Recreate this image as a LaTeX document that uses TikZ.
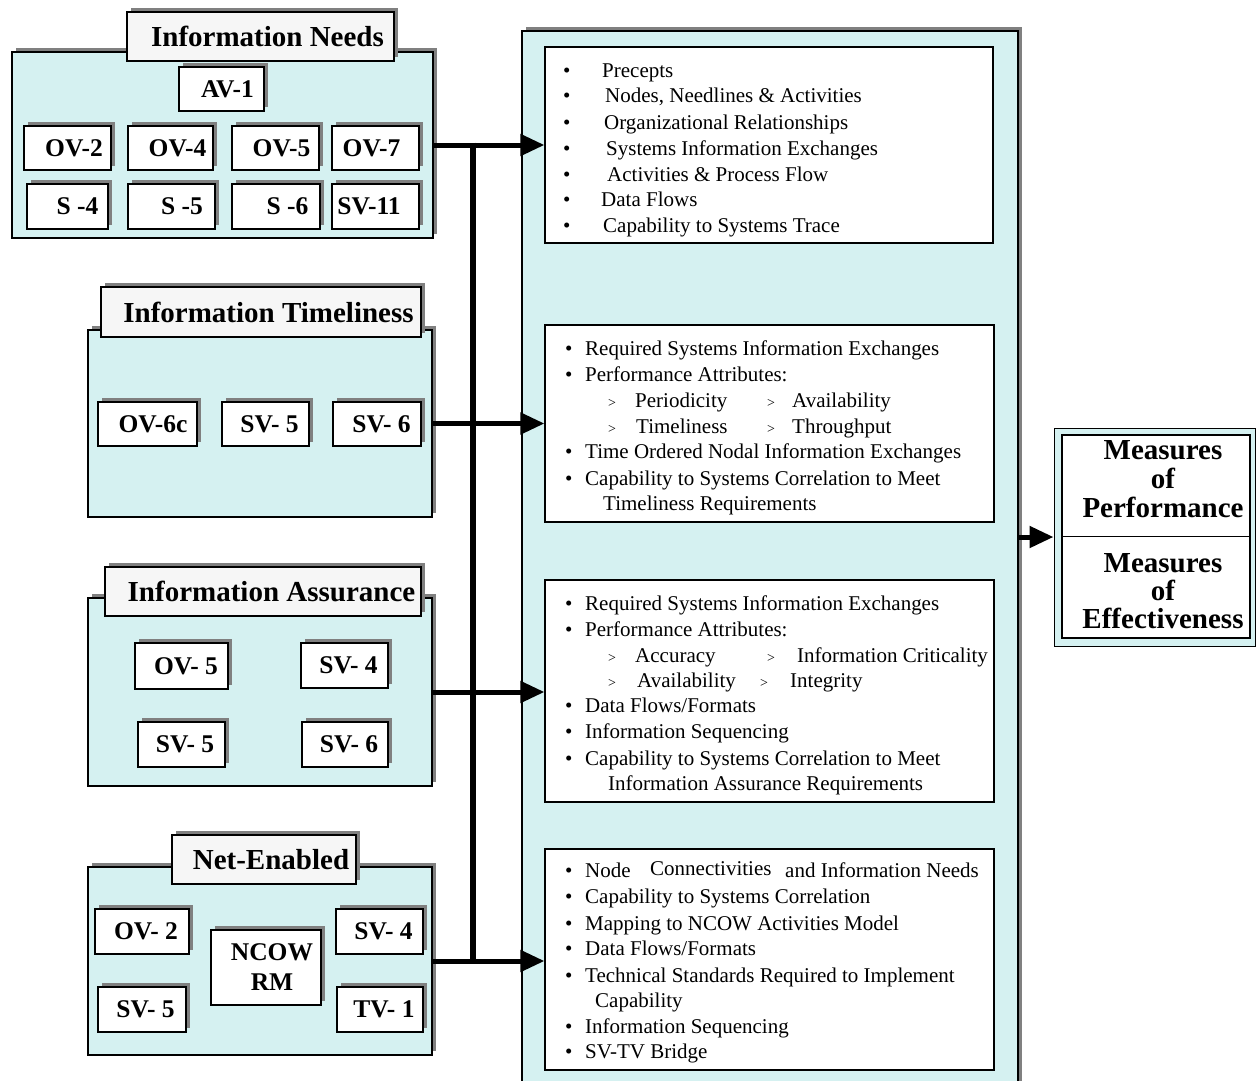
\documentclass[tikz,border=0pt]{standalone}
\usepackage{fontspec}
\setmainfont{Liberation Serif}
\usetikzlibrary{shadows,arrows.meta}
\definecolor{paneCyan}{RGB}{213,241,241}
\definecolor{capGray}{RGB}{246,246,246}
\definecolor{shadeGray}{RGB}{128,128,128}
\tikzset{
  sh/.style={drop shadow={shadow xshift=4pt,shadow yshift=4pt,fill=shadeGray,opacity=1}},
  groupbox/.style={draw=black,line width=1.2pt,fill=paneCyan,sh,inner sep=0pt},
  capbox/.style={draw=black,line width=1.2pt,fill=capGray,sh,inner sep=0pt,
    font=\fontsize{29}{32}\selectfont\bfseries},
  viewbox/.style={draw=black,line width=1.2pt,fill=white,sh,inner sep=0pt,
    font=\fontsize{25.5}{30}\selectfont\bfseries},
  listbox/.style={draw=black,line width=1.2pt,fill=white,inner sep=0pt},
  item/.style={anchor=base west,inner sep=0pt,font=\fontsize{21}{25}\selectfont},
  subtick/.style={anchor=base west,inner sep=0pt,font=\fontsize{14}{16}\selectfont},
  measure/.style={anchor=base,inner sep=0pt,font=\fontsize{29}{32}\selectfont\bfseries},
  feed/.style={line width=5pt,-{Triangle[length=24pt,width=21pt]}},
  bus/.style={line width=6pt,shorten <=-2.5pt,shorten >=-2.5pt},
}
\begin{document}
\begin{tikzpicture}[x=1pt,y=-1pt]
\useasboundingbox[fill=white] (0,0) rectangle (1259,1080);

% ---------- central panel with the four lists ----------
\node[groupbox,minimum width=496pt,minimum height=1064pt] (panel) at (770,563) {};
\node[listbox,minimum width=448pt,minimum height=196pt] (t1) at (769,145) {};
\node[listbox,minimum width=449pt,minimum height=197pt] (t2) at (769.5,423.5) {};
\node[listbox,minimum width=449pt,minimum height=222pt] (t3) at (769.5,691) {};
\node[listbox,minimum width=449pt,minimum height=221pt] (t4) at (769.5,959.5) {};

% list 1
\foreach \y/\x/\t [count=\i] in {77/602/{Precepts},102/605/{Nodes, Needlines \& Activities},
  129/604/{Organizational Relationships},155/606/{Systems Information Exchanges},
  181/607/{Activities \& Process Flow},206/601/{Data Flows},232/603/{Capability to Systems Trace}}{
  \node[item] (pa\i) at (563,\y) {•};
  \node[item] (la\i) at (\x,\y) {\t};
}

% list 2
\foreach \y/\t [count=\i] in {355/{Required Systems Information Exchanges},381/{Performance Attributes:},
  458/{Time Ordered Nodal Information Exchanges},485/{Capability to Systems Correlation to Meet}}{
  \node[item] (pb\i) at (565,\y) {•};
  \node[item] (lb\i) at (585,\y) {\t};
}
\node[item] (lb5) at (603,510) {Timeliness Requirements};
\node[subtick] (gb1) at (608,407) {>};
\node[item] (sb1) at (635,407) {Periodicity};
\node[subtick] (gb2) at (767,407) {>};
\node[item] (sb2) at (792,407) {Availability};
\node[subtick] (gb3) at (608,433) {>};
\node[item] (sb3) at (636,433) {Timeliness};
\node[subtick] (gb4) at (767,433) {>};
\node[item] (sb4) at (792,433) {Throughput};

% list 3
\foreach \y/\t [count=\i] in {610/{Required Systems Information Exchanges},636/{Performance Attributes:},
  712/{Data Flows/Formats},738/{Information Sequencing},765/{Capability to Systems Correlation to Meet}}{
  \node[item] (pc\i) at (565,\y) {•};
  \node[item] (lc\i) at (585,\y) {\t};
}
\node[item] (lc6) at (608,790) {Information Assurance Requirements};
\node[subtick] (gc1) at (608,662) {>};
\node[item] (sc1) at (635,662) {Accuracy};
\node[subtick] (gc2) at (767,662) {>};
\node[item] (sc2) at (797,662) {Information Criticality};
\node[subtick] (gc3) at (608,687) {>};
\node[item] (sc3) at (637,687) {Availability};
\node[subtick] (gc4) at (760,687) {>};
\node[item] (sc4) at (790,687) {Integrity};

% list 4
\foreach \y/\t [count=\i] in {903/{Capability to Systems Correlation},930/{Mapping to NCOW Activities Model},
  955/{Data Flows/Formats},982/{Technical Standards Required to Implement},
  1033/{Information Sequencing},1058/{SV-TV Bridge}}{
  \node[item] (pd\i) at (565,\y) {•};
  \node[item] (ld\i) at (585,\y) {\t};
}
\node[item] (pd0) at (565,877) {•};
\node[item] (ld0) at (585,877) {Node};
\node[item] (ld0b) at (650,875) {Connectivities};
\node[item] (ld0c) at (785,877) {and Information Needs};
\node[item] (ld7) at (595,1007) {Capability};

% ---------- Information Needs ----------
\node[groupbox,minimum width=421pt,minimum height=186pt] (g1) at (222.5,145) {};
\node[capbox,minimum width=267pt,minimum height=49pt] (cap1) at (260.5,36.5) {\hspace*{14pt}Information Needs};
\node[viewbox,minimum width=85pt,minimum height=44pt] (av1) at (221.5,89) {\hspace*{12pt}AV-1};
\node[viewbox,minimum width=87pt,minimum height=44pt] (ov2a) at (67.5,148) {\hspace*{13pt}OV-2};
\node[viewbox,minimum width=85pt,minimum height=44pt] (ov4a) at (170.5,148) {\hspace*{14pt}OV-4};
\node[viewbox,minimum width=87pt,minimum height=44pt] (ov5a) at (275.5,148) {\hspace*{12pt}OV-5};
\node[viewbox,minimum width=87pt,minimum height=44pt] (ov7a) at (375.5,148) {OV-7\hspace*{8pt}};
\node[viewbox,minimum width=81pt,minimum height=45pt] (s4a) at (67.5,206.5) {\hspace*{20pt}S -4};
\node[viewbox,minimum width=87pt,minimum height=45pt] (s5a) at (171.5,206.5) {\hspace*{21pt}S -5};
\node[viewbox,minimum width=88pt,minimum height=45pt] (s6a) at (276,206.5) {\hspace*{23pt}S -6};
\node[viewbox,minimum width=87pt,minimum height=45pt] (sv11a) at (375.5,206.5) {SV-11\hspace*{13pt}};

% ---------- Information Timeliness ----------
\node[groupbox,minimum width=344pt,minimum height=187pt] (g2) at (260,423.5) {};
\node[capbox,minimum width=320pt,minimum height=50pt] (cap2) at (261,312) {\hspace*{15pt}Information Timeliness};
\node[viewbox,minimum width=99pt,minimum height=44pt] (ov6b) at (147.5,424) {\hspace*{11pt}OV-6c};
\node[viewbox,minimum width=87pt,minimum height=44pt] (sv5b) at (265.5,424) {\hspace*{8pt}SV- 5};
\node[viewbox,minimum width=88pt,minimum height=44pt] (sv6b) at (377,424) {\hspace*{9pt}SV- 6};

% ---------- Information Assurance ----------
\node[groupbox,minimum width=344pt,minimum height=188pt] (g3) at (260,692) {};
\node[capbox,minimum width=316pt,minimum height=49pt] (cap3) at (263,591.5) {\hspace*{17pt}Information Assurance};
\node[viewbox,minimum width=93pt,minimum height=46pt] (ov5c) at (181.5,666) {\hspace*{9pt}OV- 5};
\node[viewbox,minimum width=87pt,minimum height=45pt] (sv4c) at (344.5,665.5) {\hspace*{8pt}SV- 4};
\node[viewbox,minimum width=87pt,minimum height=45pt] (sv5c) at (181.5,744.5) {\hspace*{7pt}SV- 5};
\node[viewbox,minimum width=86pt,minimum height=45pt] (sv6c) at (345,744.5) {\hspace*{8pt}SV- 6};

% ---------- Net-Enabled ----------
\node[groupbox,minimum width=344pt,minimum height=188pt] (g4) at (260,961) {};
\node[capbox,minimum width=184pt,minimum height=49pt] (cap4) at (264,859.5) {\hspace*{14pt}Net-Enabled};
\node[viewbox,minimum width=94pt,minimum height=45pt] (ov2d) at (142,931.5) {\hspace*{8pt}OV- 2};
\node[viewbox,minimum width=88pt,minimum height=45pt] (sv5d) at (142,1009.5) {\hspace*{7pt}SV- 5};
\node[viewbox,minimum width=110pt,minimum height=75pt,align=center] (ncow) at (266,967.5)
  {\hspace*{12pt}NCOW\\\hspace*{12pt}RM};
\node[viewbox,minimum width=87pt,minimum height=45pt] (sv4d) at (379.5,931.5) {\hspace*{8pt}SV- 4};
\node[viewbox,minimum width=86pt,minimum height=45pt] (tv1d) at (380,1009.5) {\hspace*{8pt}TV- 1};

% ---------- measures ----------
\node[draw=black,line width=1pt,fill=paneCyan,inner sep=0pt,minimum width=201pt,minimum height=218pt] (mop) at (1154.5,537) {};
\node[listbox,minimum width=188pt,minimum height=203pt] (mopin) at (1156,536.5) {};
\draw[line width=1pt] (mopin.west) -- (mopin.east);
\node[measure] (m1) at (1163,459) {Measures};
\node[measure] (m2) at (1163,488) {of};
\node[measure] (m3) at (1163,517) {Performance};
\node[measure] (m4) at (1163,572) {Measures};
\node[measure] (m5) at (1163,600) {of};
\node[measure] (m6) at (1163,628) {Effectiveness};

% ---------- connectors ----------
\coordinate (busx) at (473,0);
\draw[feed] (g1.east) -- (g1.east -| t1.west);
\draw[feed] (g2.east) -- (g2.east -| t2.west);
\draw[feed] (g3.east) -- (g3.east -| t3.west);
\draw[feed] (g4.east) -- (g4.east -| t4.west);
\draw[bus] (g1.east -| busx) -- (g4.east -| busx);
\draw[feed] (panel.east |- mop.west) -- (mop.west);
\end{tikzpicture}
\end{document}
